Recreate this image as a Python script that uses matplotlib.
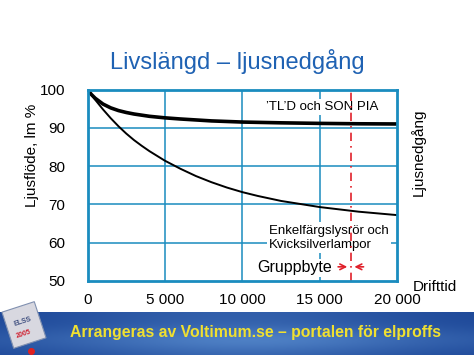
import numpy as np
import matplotlib
matplotlib.use('Agg')
import matplotlib.pyplot as plt
from matplotlib.patches import Rectangle
import matplotlib.transforms as mtransforms

plt.rcParams['font.family'] = ['Liberation Sans', 'DejaVu Sans']

# data
hours_tld = [0, 250, 500, 1000, 1500, 2000, 2500, 3000, 4000, 5000, 6000, 8000,
             10000, 12500, 15000, 17500, 20000]
tld_son = [100, 98.7, 97.7, 96.2, 95.2, 94.5, 94.0, 93.6, 93.0, 92.6, 92.3, 91.8,
           91.5, 91.3, 91.15, 91.05, 91.0]
hours_enk = [0, 500, 1000, 1500, 2000, 2500, 3000, 3500, 4000, 5000, 6000, 7000,
             8000, 9000, 10000, 11000, 12500, 15000, 17500, 20000]
enkelfarg = [100, 97.3, 94.8, 92.5, 90.4, 88.5, 86.8, 85.3, 83.9, 81.4, 79.3, 77.4,
             75.8, 74.4, 73.2, 72.2, 70.9, 69.3, 68.1, 67.2]
xticks = [0, 5000, 10000, 15000, 20000]
xticklabels = ['0', '5 000', '10 000', '15 000', '20 000']
yticks = [50, 60, 70, 80, 90, 100]
gruppbyte_h = 17000

W, H = 474, 355
blue = '#1a8cbf'
fig = plt.figure(figsize=(W / 100, H / 100), dpi=100)
fig.patch.set_facecolor('white')

def fx(px):
    return px / W

def fy(py):
    return 1 - py / H

ax = fig.add_axes([fx(87.5), fy(281), fx(397.3) - fx(87.5), fy(89.5) - fy(281)])
ax.set_xlim(0, 20000)
ax.set_ylim(50, 100)
for s in ax.spines.values():
    s.set_color(blue)
    s.set_linewidth(2.0)
    s.set_zorder(6)
for x in xticks[1:-1]:
    ax.axvline(x, color=blue, lw=1.1, zorder=1)
for y in yticks[1:-1]:
    ax.axhline(y, color=blue, lw=1.1, zorder=1)

ax.set_xticks(xticks)
ax.set_xticklabels(xticklabels)
ax.set_yticks(yticks)
ax.tick_params(length=0, labelsize=11, colors='black')
ax.tick_params(axis='x', pad=9)
ax.tick_params(axis='y', pad=16)

ax.plot(hours_tld, tld_son, color='black', lw=2.6, zorder=3, solid_capstyle='round')
ax.plot(hours_enk, enkelfarg, color='black', lw=1.4, zorder=3, solid_capstyle='round')

box = dict(facecolor='white', edgecolor='none', pad=1.5)
ax.text(15170, 95.4, "\u2019TL\u2019D och SON PIA", fontsize=9.5, ha='center', va='center',
        bbox=box, zorder=4)
ax.text(11700, 61.3, "Enkelf\u00e4rgslysr\u00f6r och\nKvicksilverlampor", fontsize=9.5,
        ha='left', va='center', linespacing=1.25, bbox=box, zorder=4)
ax.text(10950, 53.5, "Gruppbyte", fontsize=11.5, ha='left', va='center',
        bbox=dict(facecolor='white', edgecolor='none', pad=1), zorder=4)

ax.axvline(gruppbyte_h, color='#e0202a', lw=1.2, ls=(0, (5, 3, 1, 3)), zorder=5)
ax.annotate('', xy=(gruppbyte_h - 50, 53.7), xytext=(gruppbyte_h - 1000, 53.7),
            arrowprops=dict(arrowstyle='->', color='#e0202a', lw=1.2), zorder=5)
ax.annotate('', xy=(gruppbyte_h + 50, 53.7), xytext=(gruppbyte_h + 1000, 53.7),
            arrowprops=dict(arrowstyle='->', color='#e0202a', lw=1.2), zorder=5)

fig.text(fx(237), fy(62), "Livsl\u00e4ngd \u2013 ljusnedg\u00e5ng", fontsize=17,
         color='#1f62b3', ha='center', va='center')
fig.text(fx(32), fy(155), "Ljusfl\u00f6de, lm %", fontsize=11, rotation=90,
         ha='center', va='center')
fig.text(fx(418), fy(152), "Ljusnedg\u00e5ng", fontsize=11, rotation=90,
         ha='center', va='center')
fig.text(fx(435), fy(287), "Drifttid", fontsize=11, ha='center', va='center')

# footer banner
bax = fig.add_axes([0, 0, 1, fy(312)])
gx = np.linspace(0, 1, 240)
gy = np.linspace(0, 1, 40)
GX, GY = np.meshgrid(gx, gy)
shade = 0.35 * np.exp(-((GX - 0.5) / 0.4) ** 2) + 0.45 * np.exp(-((GY - 0.35) / 0.3) ** 2) * (0.4 + 0.6 * np.exp(-((GX - 0.55) / 0.35) ** 2))
shade = np.clip(shade, 0, 1)[..., None]
dark = np.array([0x1b, 0x45, 0x96]) / 255
light = np.array([0x5a, 0x8e, 0xd0]) / 255
rgb = dark + (light - dark) * shade
bax.imshow(rgb, aspect='auto', extent=[0, 1, 0, 1], origin='lower')
bax.set_xlim(0, 1)
bax.set_ylim(0, 1)
bax.axis('off')
fig.text(fx(255), fy(332), "Arrangeras av Voltimum.se \u2013 portalen f\u00f6r elproffs",
         fontsize=11.3, fontweight='bold', color='#f0e030', ha='center', va='center')

# small logo card at bottom left
lax = fig.add_axes([0, 0, fx(60), fy(285)])
lax.set_xlim(0, 60)
lax.set_ylim(0, 70)
lax.axis('off')
tr = mtransforms.Affine2D().rotate_deg_around(24, 30, 18) + lax.transData
lax.add_patch(Rectangle((7, 11), 34, 38, facecolor='#d8d8e0', edgecolor='#8090b0',
                        lw=0.8, transform=tr))
lax.text(24, 21, "2005", fontsize=5, color='#d02030', ha='center', va='center',
         rotation=18, fontweight='bold')
lax.text(23, 33, "ELSS", fontsize=5, color='#405080', ha='center', va='center',
         rotation=18, fontweight='bold')
lax.plot([31], [4], 'o', color='#e02020', ms=4)

fig.savefig('out.png', dpi=100)
